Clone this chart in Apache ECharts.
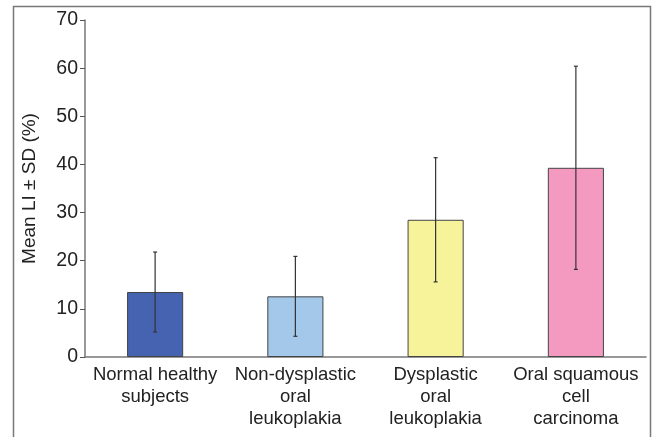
<!DOCTYPE html>
<html>
<head>
<meta charset="utf-8">
<script src="https://cdn.jsdelivr.net/npm/echarts@6/dist/echarts.min.js"></script>
<style>
  html, body { margin: 0; padding: 0; background: #fff; }
  #chart { width: 653px; height: 437px; }
</style>
</head>
<body>
<div id="chart"></div>
<script>
var categories = ['Normal healthy\nsubjects', 'Non-dysplastic\noral\nleukoplakia', 'Dysplastic\noral\nleukoplakia', 'Oral squamous\ncell\ncarcinoma'];
var means = [13.5, 12.6, 28.5, 39.3];
var sds = [8.3, 8.3, 12.9, 21.1];
var barColors = ['#4563b0', '#a3c8ea', '#f7f39a', '#f49ac1'];
var yTicks = [0, 10, 20, 30, 40, 50, 60, 70];

var myChart = echarts.init(document.getElementById('chart'));

// 误差线数据
var errData = means.map(function (m, i) {
	return [i, m - sds[i], m + sds[i]];
});

var option = {
	animation: false,
	textStyle: { fontFamily: 'Liberation Sans, Arial, sans-serif' },
	graphic: [
		{
			type: 'rect',
			shape: { x: 13.5, y: 6.5, width: 637, height: 450 },
			style: { fill: 'none', stroke: '#777', lineWidth: 1.5 },
			silent: true
		}
	],
	grid: { left: 85, top: 20, right: 7, bottom: 80 },
	xAxis: {
		type: 'category',
		data: categories,
		axisLine: { lineStyle: { color: '#777', width: 1.5 } },
		axisTick: { alignWithLabel: false, length: 5, lineStyle: { color: '#555' } },
		axisLabel: { color: '#222', fontSize: 18.5, lineHeight: 22, margin: 7, interval: 0 }
	},
	yAxis: {
		type: 'value',
		min: yTicks[0],
		max: yTicks[yTicks.length - 1],
		interval: 10,
		name: 'Mean LI \u00b1 SD (%)',
		nameLocation: 'middle',
		nameGap: 46,
		nameTextStyle: { color: '#222', fontSize: 19 },
		splitLine: { show: false },
		axisLine: { show: true, lineStyle: { color: '#777', width: 1.5 } },
		axisTick: { show: true, length: 5, lineStyle: { color: '#555' } },
		axisLabel: { color: '#222', fontSize: 19.5, margin: 7 }
	},
	series: [
		{
			type: 'bar',
			barWidth: '40%',
			data: means.map(function (v, i) {
				return {
					value: v,
					itemStyle: { color: barColors[i], borderColor: '#444', borderWidth: 1 }
				};
			}),
			z: 2
		},
		{
			type: 'custom',
			data: errData,
			z: 3,
			renderItem: function (params, api) {
				var x = api.value(0);
				var lo = api.coord([x, api.value(1)]);
				var hi = api.coord([x, api.value(2)]);
				var cap = 2;
				var st = { stroke: '#333', lineWidth: 1.2 };
				return {
					type: 'group',
					children: [
						{ type: 'line', shape: { x1: hi[0], y1: hi[1], x2: lo[0], y2: lo[1] }, style: st },
						{ type: 'line', shape: { x1: hi[0] - cap, y1: hi[1], x2: hi[0] + cap, y2: hi[1] }, style: st },
						{ type: 'line', shape: { x1: lo[0] - cap, y1: lo[1], x2: lo[0] + cap, y2: lo[1] }, style: st }
					]
				};
			}
		}
	]
};
myChart.setOption(option);
</script>
</body>
</html>
